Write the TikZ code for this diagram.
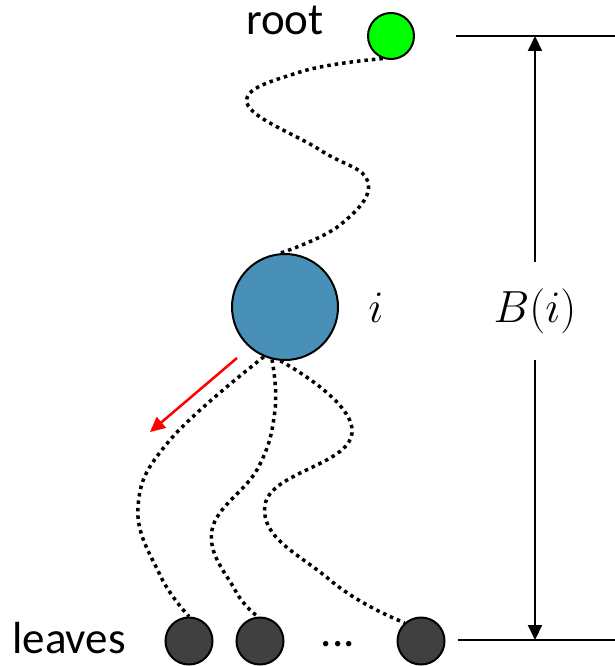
\documentclass[tikz,border=0pt]{standalone}
\usepackage{fix-cm}
\usepackage{fontspec}
\setmainfont{Carlito}
\usepackage{xcolor}
\usetikzlibrary{arrows.meta}

\definecolor{verde}{RGB}{0,255,0}
\definecolor{azul}{RGB}{72,144,184}
\definecolor{gris}{RGB}{64,64,64}

\begin{document}
\begin{tikzpicture}[x=1pt, y=-1pt,
    every node/.style={font=\fontsize{45}{54}\selectfont},
    nodo/.style={circle, draw, line width=2pt, inner sep=0pt},
    hoja/.style={nodo, fill=gris, minimum size=47pt},
    camino/.style={line width=3.5pt, dash pattern=on 3.5pt off 4pt},
    cota/.style={line width=2pt, -{Triangle[length=15pt,width=14pt]}}]

\useasboundingbox (0,0) rectangle (615,666);

% Nodos
\node[nodo, fill=verde, minimum size=46pt] (raiz) at (391,36) {};
\node[nodo, fill=azul, minimum size=106pt] (i) at (285,307) {};
\foreach \n/\x in {h1/189, h2/260, h3/421} {
    \node[hoja] (\n) at (\x,641) {};
}

% Etiquetas
\node[anchor=base] (lraiz) at (285,35) {root};
\node[anchor=base] (lhojas) at (69,653) {leaves};
\node[anchor=base] (puntos) at (338,646) {...};
\node[anchor=base] (li) at (376,322) {$i$};
\node[anchor=base, minimum height=98pt] (lB) at (535,322) {$B(i)$};

% Caminos
\draw[camino] plot[smooth, tension=0.7] coordinates
    {(raiz.250) (300,72) (247,103) (320,150) (368,182) (340,225) (i.95)};
\draw[camino] plot[smooth, tension=0.7] coordinates
    {(i.247) (170,440) (138,507) (160,575) (h1.90)};
\draw[camino] plot[smooth, tension=0.7] coordinates
    {(i.256) (275,410) (258,468) (212,530) (235,590) (h2.95)};
\draw[camino] plot[smooth, tension=0.8] coordinates
    {(i.265) (352,433) (265,505) (330,580) (h3.132)};

% Flecha roja
\coordinate (rojoIni) at (237,358);
\coordinate (rojoFin) at (150,432);
\draw[red, line width=2.5pt, -{Triangle[length=15pt,width=14pt]}] (rojoIni) -- (rojoFin);

% Cota
\coordinate (supIzq) at (456,36);
\coordinate (supDer) at (615,36);
\coordinate (infIzq) at (458,640);
\coordinate (infDer) at (615,640);
\draw[line width=2pt] (supIzq) -- (supDer);
\draw[line width=2pt] (infIzq) -- (infDer);
\draw[cota] (lB.north) -- (lB.north |- supIzq);
\draw[cota] (lB.south) -- (lB.south |- infIzq);

\end{tikzpicture}
\end{document}
